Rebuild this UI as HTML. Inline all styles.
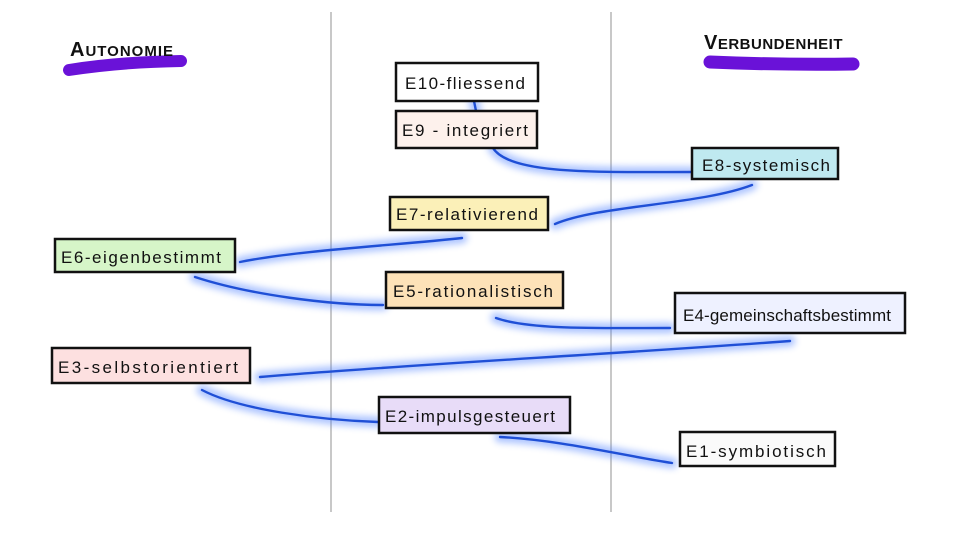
<!DOCTYPE html>
<html><head><meta charset="utf-8"><style>
html,body{margin:0;padding:0;background:#fff;width:960px;height:540px;overflow:hidden}
svg text{font-family:"Liberation Sans",sans-serif;fill:#111}
</style></head><body>
<svg width="960" height="540" viewBox="0 0 960 540" xmlns="http://www.w3.org/2000/svg">
<defs>
<filter id="glow" x="-20%" y="-50%" width="140%" height="200%"><feGaussianBlur stdDeviation="3.5"/></filter>
</defs>
<line x1="331" y1="12" x2="331" y2="512" stroke="#c8c8c8" stroke-width="2"/>
<line x1="611" y1="12" x2="611" y2="512" stroke="#c8c8c8" stroke-width="2"/>
<!-- headings -->
<path d="M69 70 Q120 62 181 61" stroke="#6a12d8" stroke-width="12" stroke-linecap="round" fill="none"/>
<text x="70" y="56" font-size="20" font-weight="bold" letter-spacing="1">A<tspan font-size="15">UTONOMIE</tspan></text>
<path d="M710 62 Q780 65 853 64" stroke="#6a12d8" stroke-width="13" stroke-linecap="round" fill="none"/>
<text x="704" y="49" font-size="20" font-weight="bold" letter-spacing="0.5">V<tspan font-size="15">ERBUNDENHEIT</tspan></text>
<!-- connectors -->
<g fill="none" stroke-linecap="round">
<g stroke="#4d80ff" stroke-width="11" opacity="0.45" filter="url(#glow)">
<path d="M474 101 L476 111"/>
<path d="M493 148 C510 175 600 172 692 172"/>
<path d="M752 185 C700 205 600 205 555 224"/>
<path d="M462 238 C400 245 300 250 240 262"/>
<path d="M195 277 C250 295 330 305 383 305"/>
<path d="M496 318 C530 330 600 328 670 328"/>
<path d="M790 341 C600 355 400 365 260 377"/>
<path d="M202 390 C240 410 320 420 378 422"/>
<path d="M500 437 C560 440 620 455 672 463"/>
</g>
<g stroke="#1f4fd6" stroke-width="2.4">
<path d="M474 101 L476 111"/>
<path d="M493 148 C510 175 600 172 692 172"/>
<path d="M752 185 C700 205 600 205 555 224"/>
<path d="M462 238 C400 245 300 250 240 262"/>
<path d="M195 277 C250 295 330 305 383 305"/>
<path d="M496 318 C530 330 600 328 670 328"/>
<path d="M790 341 C600 355 400 365 260 377"/>
<path d="M202 390 C240 410 320 420 378 422"/>
<path d="M500 437 C560 440 620 455 672 463"/>
</g>
</g>
<!-- boxes -->
<g stroke="#111" stroke-width="2.5">
<rect x="396" y="63" width="142" height="38" fill="#fff"/>
<rect x="396" y="111" width="141" height="37" fill="#fdf1ec"/>
<rect x="692" y="148" width="146" height="31" fill="#bfe9f0"/>
<rect x="390" y="197" width="158" height="33" fill="#fbf0b8"/>
<rect x="55" y="239" width="180" height="33" fill="#d6f5c8"/>
<rect x="386" y="272" width="177" height="36" fill="#fde2b8"/>
<rect x="675" y="293" width="230" height="40" fill="#eef1ff"/>
<rect x="52" y="348" width="198" height="35" fill="#fde0e0"/>
<rect x="379" y="397" width="191" height="36" fill="#e8dcf8"/>
<rect x="680" y="432" width="155" height="34" fill="#fafafa"/>
</g>
<g font-size="17">
<text x="405" y="89" textLength="120" lengthAdjust="spacing">E10-fliessend</text>
<text x="402" y="136" textLength="126" lengthAdjust="spacing">E9 - integriert</text>
<text x="702" y="171" textLength="128" lengthAdjust="spacing">E8-systemisch</text>
<text x="396" y="220" textLength="142" lengthAdjust="spacing">E7-relativierend</text>
<text x="61" y="263" textLength="160" lengthAdjust="spacing">E6-eigenbestimmt</text>
<text x="393" y="297" textLength="160" lengthAdjust="spacing">E5-rationalistisch</text>
<text x="683" y="321" textLength="208" lengthAdjust="spacing">E4-gemeinschaftsbestimmt</text>
<text x="58" y="373" textLength="180" lengthAdjust="spacing">E3-selbstorientiert</text>
<text x="385" y="422" textLength="170" lengthAdjust="spacing">E2-impulsgesteuert</text>
<text x="686" y="457" textLength="140" lengthAdjust="spacing">E1-symbiotisch</text>
</g>
</svg>
</body></html>
